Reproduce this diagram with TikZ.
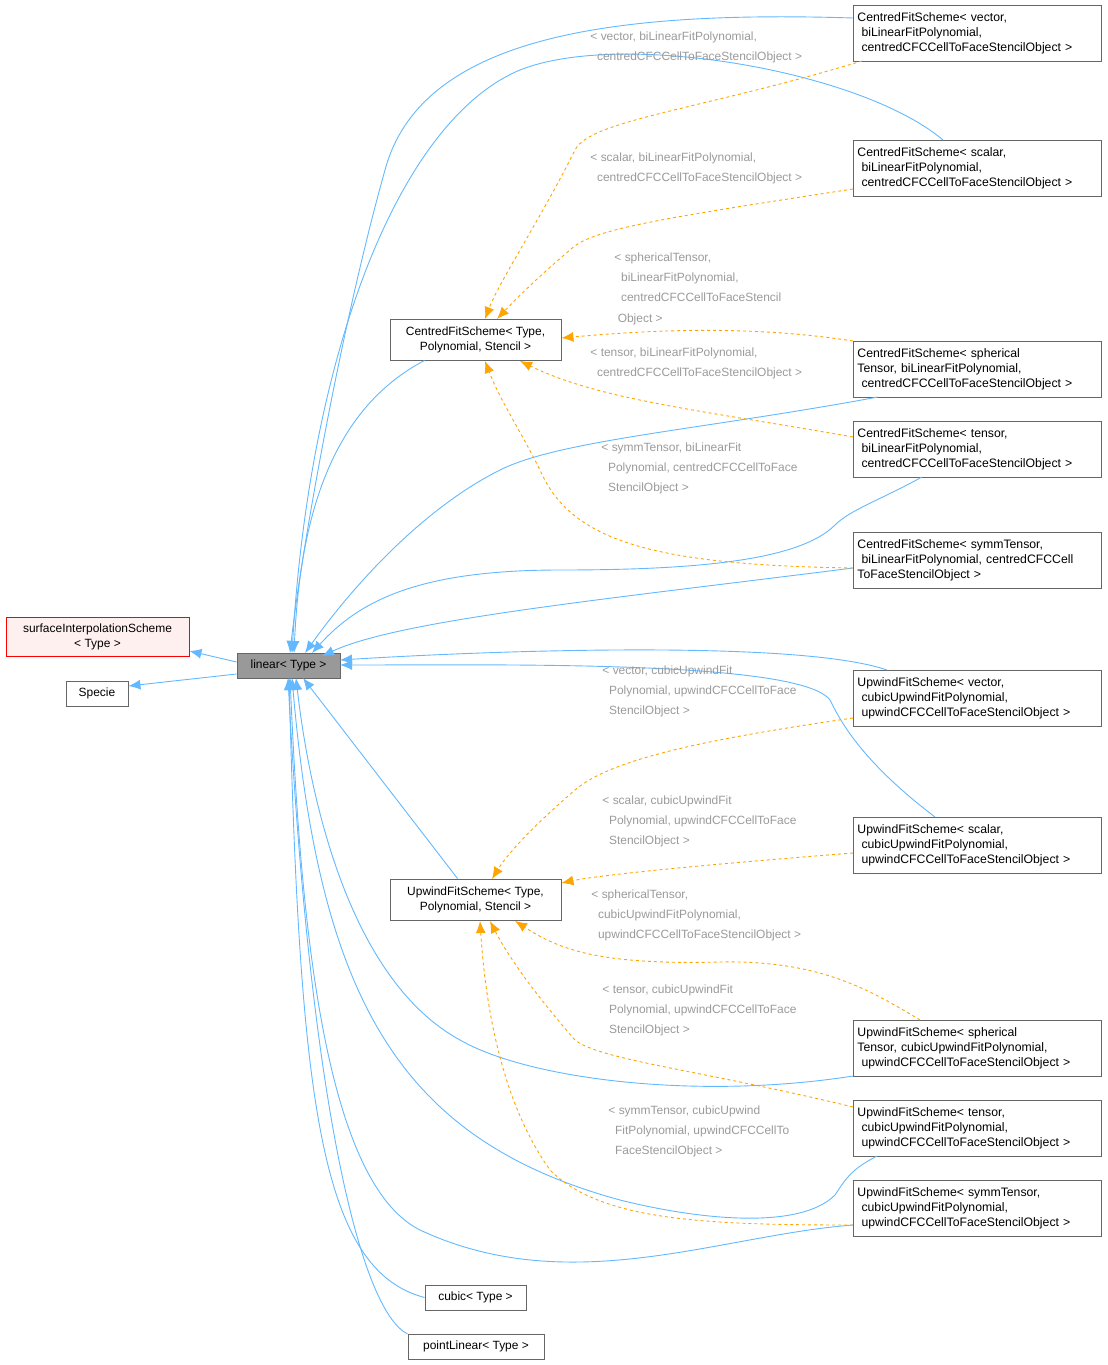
\documentclass[tikz,border=0pt]{standalone}
\usepackage{fontspec}
\setmainfont{Liberation Sans}
\usetikzlibrary{arrows.meta}
\definecolor{inh}{HTML}{63B8FF}
\definecolor{tpl}{HTML}{FFA500}
\definecolor{lbl}{HTML}{9A9A9A}
\tikzset{
  cls/.style={draw=black!60,fill=white,inner sep=2bp,font=\fontsize{12}{15}\selectfont,align=left,anchor=north west},
  inst/.style={cls,text width=240bp,inner xsep=4bp,minimum height=56bp,font=\fontsize{12.3}{15}\selectfont},
  inh/.style={draw=inh,-{Latex[length=12bp,width=10bp]}},
  tpl/.style={draw=tpl,dashed,-{Latex[length=12bp,width=10bp]}},
  lbl/.style={text=lbl,font=\fontsize{12}{20.5}\selectfont,align=left,anchor=north west,inner sep=0pt},
}
\begin{document}
\begin{tikzpicture}[x=1bp,y=-1bp,line width=0.9bp]
\useasboundingbox (0,0) rectangle (1107,1365);
%%
  % Node: linear
  \node [cls,fill=black!40,minimum width=103bp,minimum height=25bp,align=center,anchor=center] (linear) at (288.5,665.5) {linear< Type >};
  \node [cls,draw=red,fill=red!6,minimum width=183bp,minimum height=39bp,align=center,anchor=center] (surf) at (97.5,636.5) {surfaceInterpolationScheme\\< Type >};
  \node [cls,minimum width=62bp,minimum height=25bp,align=center,anchor=center] (specie) at (97,693.5) {Specie};
  \node [cls,minimum width=171bp,minimum height=41bp,align=center,anchor=center] (centred) at (475.5,339.5) {CentredFitScheme< Type,\\Polynomial, Stencil >};
  \node [cls,minimum width=171bp,minimum height=41bp,align=center,anchor=center] (upwind) at (475.5,899.5) {UpwindFitScheme< Type,\\Polynomial, Stencil >};
  \node [cls,minimum width=101bp,minimum height=25bp,align=center,anchor=center] (cubic) at (475.5,1297.5) {cubic< Type >};
  \node [cls,minimum width=136bp,minimum height=25bp,align=center,anchor=center] (pointlin) at (476,1346.5) {pointLinear< Type >};
  % Node: instances
  \node [inst] (cvec) at (853,5) {CentredFitScheme< vector,\\\ biLinearFitPolynomial,\\\ centredCFCCellToFaceStencilObject >};
  \node [inst] (csca) at (853,140) {CentredFitScheme< scalar,\\\ biLinearFitPolynomial,\\\ centredCFCCellToFaceStencilObject >};
  \node [inst] (csph) at (853,341) {CentredFitScheme< spherical\\Tensor, biLinearFitPolynomial,\\\ centredCFCCellToFaceStencilObject >};
  \node [inst] (cten) at (853,421) {CentredFitScheme< tensor,\\\ biLinearFitPolynomial,\\\ centredCFCCellToFaceStencilObject >};
  \node [inst] (csym) at (853,532) {CentredFitScheme< symmTensor,\\\ biLinearFitPolynomial, centredCFCCell\\ToFaceStencilObject >};
  \node [inst] (uvec) at (853,670) {UpwindFitScheme< vector,\\\ cubicUpwindFitPolynomial,\\\ upwindCFCCellToFaceStencilObject >};
  \node [inst] (usca) at (853,817) {UpwindFitScheme< scalar,\\\ cubicUpwindFitPolynomial,\\\ upwindCFCCellToFaceStencilObject >};
  \node [inst] (usph) at (853,1020) {UpwindFitScheme< spherical\\Tensor, cubicUpwindFitPolynomial,\\\ upwindCFCCellToFaceStencilObject >};
  \node [inst] (uten) at (853,1100) {UpwindFitScheme< tensor,\\\ cubicUpwindFitPolynomial,\\\ upwindCFCCellToFaceStencilObject >};
  \node [inst] (usym) at (853,1180) {UpwindFitScheme< symmTensor,\\\ cubicUpwindFitPolynomial,\\\ upwindCFCCellToFaceStencilObject >};
%%
  % Edge: linear -> bases
  \draw [inh] (linear.west|-0,662) -- (surf.east|-0,651);
  \draw [inh] (linear.west|-0,674) -- (specie.east|-0,686);
  % Edge: centred instances -> linear
  \draw [inh] (cvec.west|-0,18) .. controls (600,10) and (420,40) .. (385,170) .. controls (340,330) and (300,560) .. (290,653);
  \draw [inh] (943,140) .. controls (860,70) and (620,30) .. (520,70) .. controls (400,120) and (310,350) .. (292,653);
  \draw [inh] (centred.south west)++(35,0) .. controls (330,410) and (300,520) .. (294,653);
  \draw [inh] (878,397) .. controls (700,430) and (560,440) .. (500,470) .. controls (420,510) and (350,590) .. (305,653);
  \draw [inh] (922,477) .. controls (880,500) and (850,510) .. (835,525) .. controls (800,560) and (700,570) .. (560,570) .. controls (420,570) and (360,600) .. (312,653);
  \draw [inh] (csym.west|-0,568) .. controls (600,600) and (400,620) .. (322,656);
  % Edge: upwind instances -> linear
  \draw [inh] (887,670) .. controls (800,640) and (500,650) .. (340,660);
  \draw [inh] (935,817) .. controls (860,760) and (840,720) .. (830,700) .. controls (800,660) and (500,665) .. (340,665);
  \draw [inh] (upwind.north west)++(68,0) -- (303,678);
  \draw [inh] (usph.west|-0,1076) .. controls (700,1100) and (530,1080) .. (460,1040) .. controls (350,980) and (310,800) .. (296,678);
  \draw [inh] (877,1156) .. controls (850,1170) and (845,1180) .. (835,1195) .. controls (800,1230) and (700,1220) .. (620,1200) .. controls (400,1140) and (320,1000) .. (292,678);
  \draw [inh] (usym.west|-0,1225) .. controls (720,1235) and (570,1300) .. (420,1230) .. controls (320,1180) and (300,900) .. (290,678);
  \draw [inh] (cubic.west) .. controls (320,1270) and (300,1100) .. (289,678);
  \draw [inh] (pointlin.west|-0,1334) .. controls (360,1310) and (310,1100) .. (288,678);
  % Edge: centred instances -> CentredFitScheme
  \draw [tpl] (862,61) .. controls (700,110) and (590,120) .. (575,150) .. controls (540,220) and (500,280) .. (485,319);
  \draw [tpl] (csca.west|-0,189) .. controls (650,220) and (590,230) .. (570,250) .. controls (540,275) and (515,300) .. (497,319);
  \draw [tpl] (csph.west|-0,341) .. controls (750,325) and (650,330) .. (centred.east|-0,338);
  \draw [tpl] (cten.west|-0,437) .. controls (700,410) and (600,400) .. (520,361);
  \draw [tpl] (csym.west|-0,568) .. controls (650,565) and (570,540) .. (540,470) .. controls (520,430) and (500,400) .. (485,361);
  % Edge: upwind instances -> UpwindFitScheme
  \draw [tpl] (uvec.west|-0,718) .. controls (700,740) and (610,760) .. (575,790) .. controls (540,820) and (510,850) .. (492,879);
  \draw [tpl] (usca.west|-0,853) .. controls (700,865) and (600,875) .. (upwind.east|-0,883);
  \draw [tpl] (920,1020) .. controls (870,990) and (820,960) .. (720,962) .. controls (600,965) and (560,950) .. (515,921);
  \draw [tpl] (uten.west|-0,1107) .. controls (700,1070) and (600,1060) .. (575,1040) .. controls (540,1000) and (510,960) .. (490,921);
  \draw [tpl] (usym.west|-0,1225) .. controls (700,1225) and (600,1220) .. (550,1170) .. controls (500,1100) and (485,1000) .. (480,921);
  % Labels
  \node [lbl] (l1) at (590,31) {< vector, biLinearFitPolynomial,\\ \ \ centredCFCCellToFaceStencilObject >};
  \node [lbl] (l2) at (590,152) {< scalar, biLinearFitPolynomial,\\ \ \ centredCFCCellToFaceStencilObject >};
  \node [lbl] (l3) at (614,252) {< sphericalTensor,\\ \ \ biLinearFitPolynomial,\\ \ \ centredCFCCellToFaceStencil\\ \ Object >};
  \node [lbl] (l4) at (590,347) {< tensor, biLinearFitPolynomial,\\ \ \ centredCFCCellToFaceStencilObject >};
  \node [lbl] (l5) at (601,442) {< symmTensor, biLinearFit\\ \ \ Polynomial, centredCFCCellToFace\\ \ \ StencilObject >};
  \node [lbl] (l6) at (602,665) {< vector, cubicUpwindFit\\ \ \ Polynomial, upwindCFCCellToFace\\ \ \ StencilObject >};
  \node [lbl] (l7) at (602,795) {< scalar, cubicUpwindFit\\ \ \ Polynomial, upwindCFCCellToFace\\ \ \ StencilObject >};
  \node [lbl] (l8) at (591,889) {< sphericalTensor,\\ \ \ cubicUpwindFitPolynomial,\\ \ \ upwindCFCCellToFaceStencilObject >};
  \node [lbl] (l9) at (602,984) {< tensor, cubicUpwindFit\\ \ \ Polynomial, upwindCFCCellToFace\\ \ \ StencilObject >};
  \node [lbl] (l10) at (608,1105) {< symmTensor, cubicUpwind\\ \ \ FitPolynomial, upwindCFCCellTo\\ \ \ FaceStencilObject >};
%
\end{tikzpicture}
\end{document}
